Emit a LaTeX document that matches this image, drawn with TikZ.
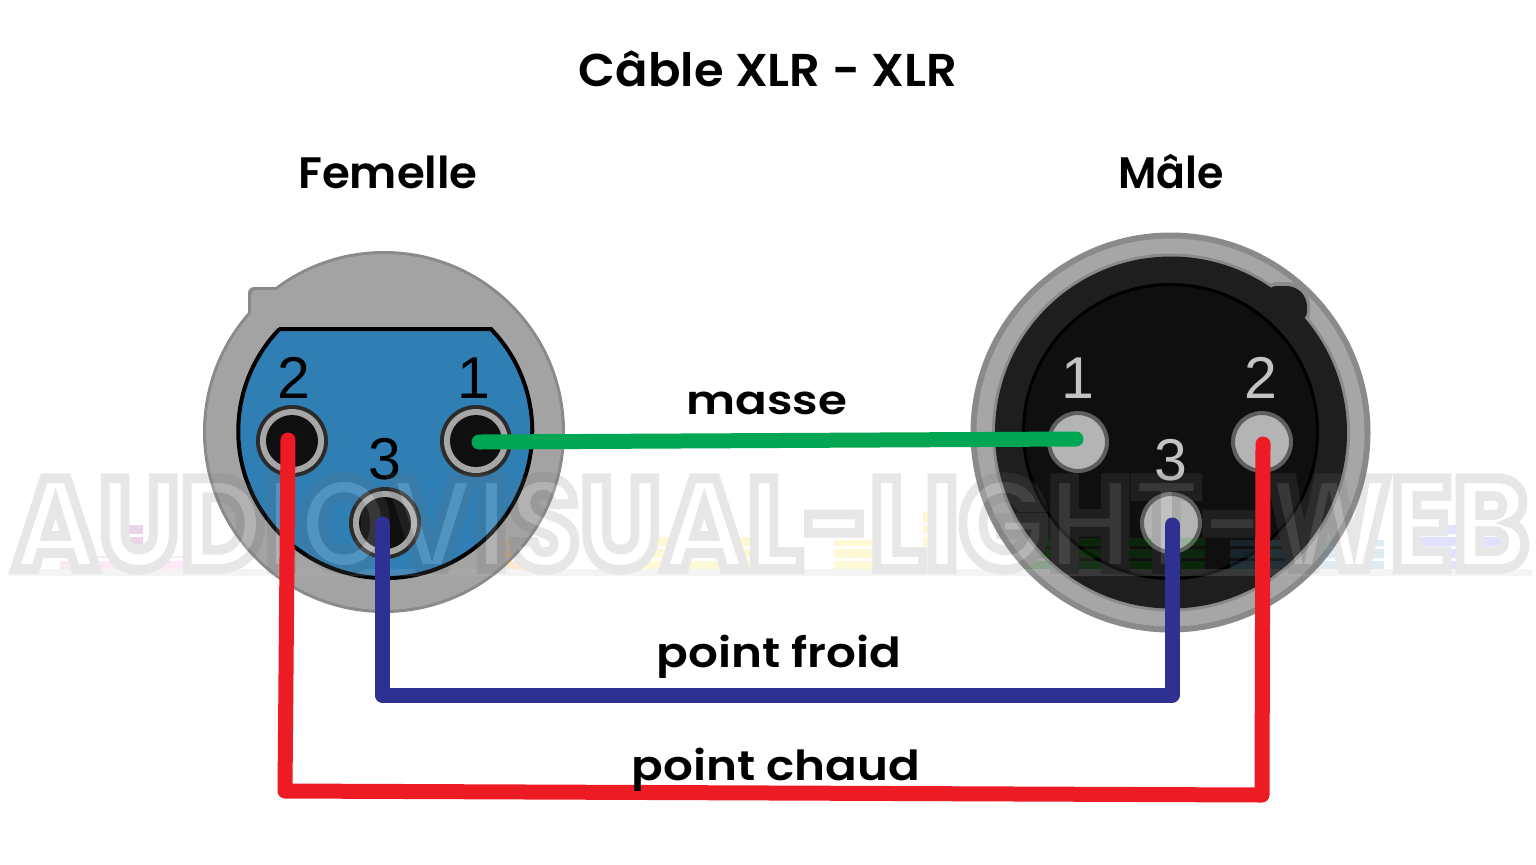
\documentclass[tikz,border=0pt]{standalone}
\usepackage{fontspec}
\setmainfont{Poppins}
\newfontfamily\labelfont[FakeStretch=1.17]{Poppins SemiBold}
\newfontfamily\markfont{Poppins}
\newfontfamily\digitfont{Liberation Sans}
\definecolor{shell}{HTML}{A3A3A3}
\definecolor{shelledge}{HTML}{8A8A8A}
\definecolor{socket}{HTML}{2F7FB5}
\definecolor{ringdark}{HTML}{2B2B2B}
\definecolor{ringlight}{HTML}{A6A6A6}
\definecolor{core}{HTML}{0F0F0F}
\definecolor{malering}{HTML}{1E1E1E}
\definecolor{malepin}{HTML}{B4B4B4}
\definecolor{maleedge}{HTML}{5E5E5E}
\definecolor{wirered}{HTML}{ED1C24}
\definecolor{wireblue}{HTML}{2E3192}
\definecolor{wiregreen}{HTML}{00A651}
\newcommand{\fitlabel}[3]{\scalebox{#1}[#2]{#3}}
\newcommand{\marktext}{\resizebox{758pt}{46pt}{\special{pdf:code 2 Tr 0.75 w 0.45 G 1 g}\markfont\bfseries AUDIOVISUAL-LIGHT-WEB\special{pdf:code 0 Tr 1 w 0 G 0 g}}}
\tikzset{
  x=0.5pt,y=-0.5pt,
  caption/.style={font=\labelfont\fontsize{25}{25}\selectfont,anchor=base,inner sep=0pt,text=black},
  wirelabel/.style={font=\labelfont\fontsize{23}{23}\selectfont,anchor=base,inner sep=0pt,text=black},
  pinnum/.style={font=\digitfont\fontsize{29.5}{29.5}\selectfont,anchor=base,inner sep=0pt},
  fpin/.style={circle,fill=ringdark,minimum size=36pt,inner sep=0pt},
  mpin/.style={circle,fill=malepin,draw=maleedge,line width=2pt,minimum size=29pt,inner sep=0pt},
  wire/.style={line width=7.5pt,line cap=round,line join=round},
}
\begin{document}
\begin{tikzpicture}
\useasboundingbox (0,0) rectangle (1536,864);
\fill[white] (0,0) rectangle (1536,864);

% female shell with key
\fill[shelledge] (384,432) circle [radius=181];
\fill[shelledge,rounded corners=3pt] (248,318) -- (248,287) -- (290,287) -- (290,318) -- cycle;
\fill[shell] (384,432) circle [radius=178];
\fill[shell,rounded corners=2.5pt] (251,318) -- (251,290) -- (290,290) -- (290,318) -- cycle;
% socket face
\draw[fill=socket,draw=black,line width=2pt]
  (279,329) -- (491,329) arc [start angle=-44,end angle=224,radius=147] -- cycle;

% male shell
\fill[shelledge] (1170.5,432.5) circle [radius=200];
\fill[ringlight] (1170.5,432.5) circle [radius=194];
\fill[shelledge] (1171,432.5) circle [radius=179];
\fill[shelledge,rounded corners=4pt] (1268,282) -- (1296,282) -- (1310,296) -- (1310,322) -- (1270,322) -- cycle;
\fill[malering] (1171,432.5) circle [radius=176];
\fill[malering,rounded corners=4pt] (1268,286) -- (1295,286) -- (1307,298) -- (1307,320) -- (1270,320) -- cycle;
\draw[fill=core,draw=black,line width=1.5pt] (1170.5,431.5) circle [radius=147];

% pins
\node[fpin] (fa) at (476,441) {};
\node[fpin] (fb) at (292,441) {};
\node[fpin] (fc) at (385,523) {};
\foreach \p in {fa,fb,fc}{
  \fill[ringlight] (\p.center) circle [radius=32];
  \fill[core] (\p.center) circle [radius=26];
}
\node[mpin] (ma) at (1078,442) {};
\node[mpin] (mb) at (1262,442) {};
\node[mpin] (mc) at (1171,523) {};

% pin numbers
\node[pinnum,text=black] (nfb) at (294,398) {2};
\node[pinnum,text=black] (nfa) at (474,398) {1};
\node[pinnum,text=black] (nfc) at (385,479) {3};
\node[pinnum,text=malepin!80!white] (nma) at (1078,398) {1};
\node[pinnum,text=malepin!80!white] (nmb) at (1261,398) {2};
\node[pinnum,text=malepin!80!white] (nmc) at (1171,480) {3};

% watermark
\begin{scope}[transparency group,opacity=.17]
  \begin{scope}
    \clip (0,512) rectangle (1536,522) (0,525) rectangle (1536,534) (0,537) rectangle (1536,546) (0,549) rectangle (1536,558) (0,561) rectangle (1536,572);
    \foreach \xa/\ya/\xb/\col in {115/525/143/violet,60/556/200/magenta!50,490/540/535/orange,600/555/640/orange,643/535/765/yellow!80!orange,834/540/889/yellow!80!orange,923/512/948/yellow!80!orange,1022/538/1205/green!60!black,1230/540/1384/cyan!70!black,1403/525/1503/blue!70}
      \fill[\col] (\xa,\ya) rectangle (\xb,572);
  \end{scope}
  \fill[black!25] (8,569) rectangle (1532,576);
  \node[inner sep=0pt,anchor=base] (wm) at (771,569) {\marktext};
\end{scope}

% wire ends
\coordinate (ga) at (479,442);
\coordinate (gb) at (1076,439);
\coordinate (ba) at (382,524);
\coordinate (bb) at (382,695);
\coordinate (bc) at (1172,695);
\coordinate (bd) at (1172,525);
\coordinate (ra) at (288,440);
\coordinate (rb) at (285,791);
\coordinate (rc) at (1262,795);
\coordinate (rd) at (1263,444);
\draw[wire,wiregreen] (ga) -- (gb);
\draw[wire,wireblue] (ba) -- (bb) -- (bc) -- (bd);
\draw[wire,wirered] (ra) -- (rb) -- (rc) -- (rd);

% captions
\node[caption] (title) at (768,86) {\fitlabel{.82}{.92}{Câble XLR - XLR}};
\node[caption] (fem) at (388,188) {\fitlabel{.77}{.88}{Femelle}};
\node[caption] (mal) at (1171,188) {\fitlabel{.73}{.88}{Mâle}};
\node[wirelabel] (lm) at (767,414) {\fitlabel{.87}{.87}{masse}};
\node[wirelabel] (lf) at (779,667) {\fitlabel{.87}{.9}{point froid}};
\node[wirelabel] (lc) at (776,780) {\fitlabel{.87}{.9}{point chaud}};
\end{tikzpicture}
\end{document}
